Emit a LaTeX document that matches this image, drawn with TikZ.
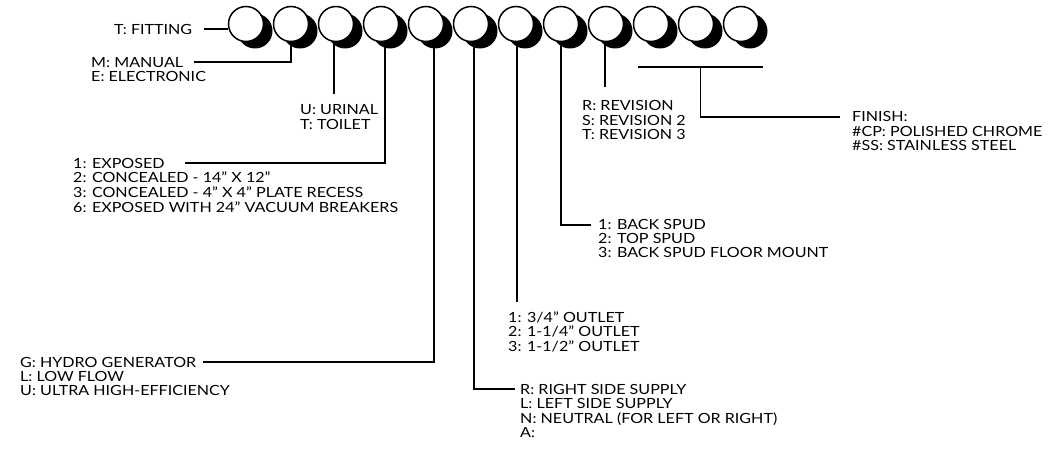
\documentclass[tikz,border=0pt]{standalone}
\usepackage{fontspec}
\setmainfont{Lato}[FakeStretch=1.15]
\usetikzlibrary{positioning,calc}
\newcommand{\codelist}[1]{\begin{tabular}[t]{@{}l@{}}#1\end{tabular}}

\begin{document}
\begin{tikzpicture}[x=1pt,y=-1pt,
  lbl/.style={anchor=base west, inner sep=0pt, font=\fontsize{14}{13.4}\selectfont},
  lead/.style={line width=1.8pt},
  ball/.style={circle, draw, line width=1.5pt, fill=white, minimum size=35pt, inner sep=0pt},
  shade/.style={circle, fill=black, minimum size=35pt, inner sep=0pt}]
  \useasboundingbox (0,0) rectangle (1054,449);
  \foreach \k in {1,...,12} {
    \node[shade] (s\k) at ({246+45*(\k-1)+9},31) {};
    \node[ball] (c\k) at ({246+45*(\k-1)},24) {};
  }
  \node[lbl] (fit) at (114,34.5) {T: FITTING};
  \node[lbl] (mode) at (91,67.5) {\codelist{M: MANUAL\\E: ELECTRONIC}};
  \node[lbl] (use) at (300,115) {\codelist{U: URINAL\\T: TOILET}};
  \node[lbl] (mount) at (73,168) {\codelist{1: EXPOSED\\2: CONCEALED - 14” X 12”\\3: CONCEALED - 4” X 4” PLATE RECESS\\6: EXPOSED WITH 24” VACUUM BREAKERS}};
  \node[lbl] (gen) at (20,367.5) {\codelist{G: HYDRO GENERATOR\\L: LOW FLOW\\U: ULTRA HIGH-EFFICIENCY}};
  \node[lbl] (side) at (520,394.5) {\codelist{R: RIGHT SIDE SUPPLY\\L: LEFT SIDE SUPPLY\\N: NEUTRAL (FOR LEFT OR RIGHT)\\A:}};
  \node[lbl] (outlet) at (508,322) {\codelist{1: 3/4” OUTLET\\2: 1-1/4” OUTLET\\3: 1-1/2” OUTLET}};
  \node[lbl] (spud) at (598,229.5) {\codelist{1: BACK SPUD\\2: TOP SPUD\\3: BACK SPUD FLOOR MOUNT}};
  \node[lbl] (rev) at (582,111) {\codelist{R: REVISION\\S: REVISION 2\\T: REVISION 3}};
  \node[lbl] (fin) at (852,122) {\codelist{FINISH:\\\#CP: POLISHED CHROME\\\#SS: STAINLESS STEEL}};
  \coordinate (fitA) at (204,29);
  \coordinate (modeA) at (194,62);
  \coordinate (useA) at (334,94);
  \coordinate (mountA) at (185,163);
  \coordinate (genA) at (203,362);
  \coordinate (sideA) at (515,389);
  \coordinate (outletA) at (517,302);
  \coordinate (spudA) at (591,225);
  \coordinate (revA) at (605,87);
  \coordinate (finL) at (638,67);
  \coordinate (finR) at (763,67);
  \coordinate (finA) at (840,117);
  \draw[lead] (fitA) -- (fitA -| c1.west);
  \draw[lead] (c2.south) |- (modeA);
  \draw[lead] (c3.south -| useA) -- (useA);
  \draw[lead] ([xshift=4pt]c4.south) |- (mountA);
  \draw[lead] ([xshift=8pt]c5.south) |- (genA);
  \draw[lead] ([xshift=3pt]c6.south) |- (sideA);
  \draw[lead] (c7.south -| outletA) -- (outletA);
  \draw[lead] (c8.south) |- (spudA);
  \draw[lead] (c9.south -| revA) -- (revA);
  \draw[lead] (finL) -- (finR);
  \draw[lead] ($(finL)!0.5!(finR)$) |- (finA);
\end{tikzpicture}
\end{document}
